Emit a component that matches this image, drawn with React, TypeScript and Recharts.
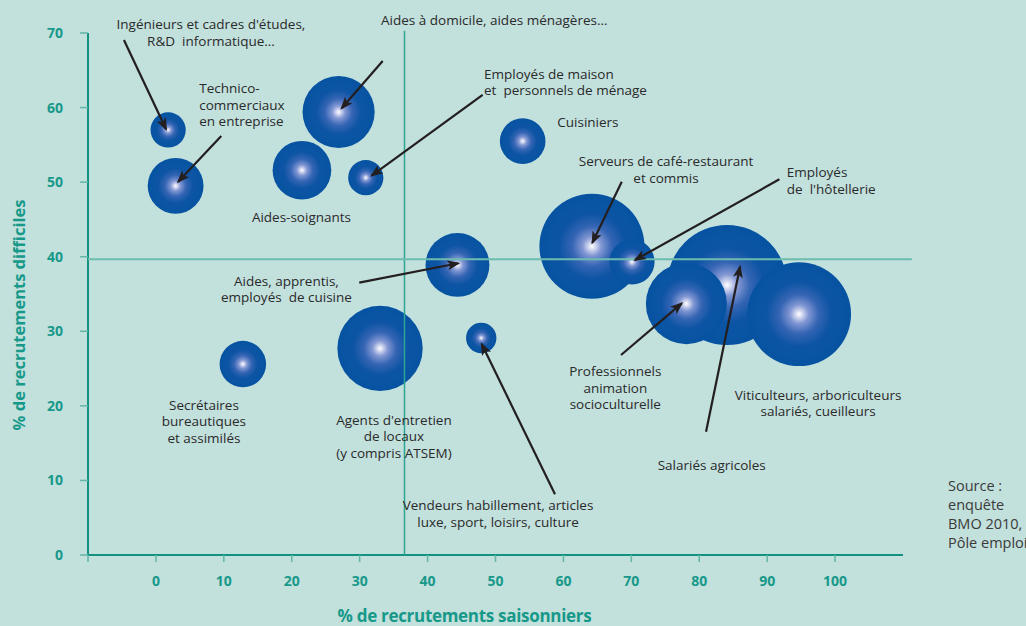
import React from 'react';
import { ScatterChart, Scatter, XAxis, YAxis, ZAxis, ReferenceLine, ReferenceDot, Label } from 'recharts';

// ---- data ----
const occupations = [
  "Ingénieurs et cadres d'études, R&D informatique",
  'Technico-commerciaux en entreprise',
  'Aides-soignants',
  'Aides à domicile, aides ménagères',
  'Employés de maison et personnels de ménage',
  'Cuisiniers',
  'Secrétaires bureautiques et assimilés',
  "Agents d'entretien de locaux (y compris ATSEM)",
  'Aides, apprentis, employés de cuisine',
  'Vendeurs habillement, articles luxe, sport, loisirs, culture',
  'Serveurs de café-restaurant et commis',
  "Employés de l'hôtellerie",
  'Salariés agricoles',
  'Professionnels animation socioculturelle',
  'Viticulteurs, arboriculteurs salariés, cueilleurs',
];
const seasonalShare = [1.8, 2.9, 21.5, 26.9, 30.9, 54.0, 12.8, 33.0, 44.4, 47.9, 64.2, 70.1, 84.1, 78.1, 94.7];
const difficultShare = [57.0, 49.5, 51.6, 59.4, 50.6, 55.5, 25.6, 27.7, 38.9, 29.1, 41.4, 39.3, 36.2, 33.7, 32.3];
const hiringProjects = [3.1, 7.8, 8.6, 13.0, 3.1, 5.2, 5.4, 18.2, 10.2, 2.3, 27.6, 5.1, 36.0, 16.4, 27.0];

const xTicks = [-10, 0, 10, 20, 30, 40, 50, 60, 70, 80, 90, 100];
const yTicks = [0, 10, 20, 30, 40, 50, 60, 70];

const avgSeasonal = 36.6;
const avgDifficult = 39.65;

const data = occupations.map((name, i) => ({
  name,
  x: seasonalShare[i],
  y: difficultShare[i],
  z: hiringProjects[i],
}));

// ---- annotations (in data units) ----
type Note = { lines: string[]; x: number; y: number; anchor: 'start' | 'middle'; lh: number };
const notes: Note[] = [
  { lines: ["Ingénieurs et cadres d'études,", 'R&D  informatique…'], x: 8.1, y: 71.21, anchor: 'middle', lh: 17.5 },
  { lines: ['Technico-', 'commerciaux', 'en entreprise'], x: 6.38, y: 62.58, anchor: 'start', lh: 16.3 },
  { lines: ['Aides-soignants'], x: 21.43, y: 45.33, anchor: 'middle', lh: 16 },
  { lines: ['Aides à domicile, aides ménagères…'], x: 49.82, y: 71.74, anchor: 'middle', lh: 16 },
  { lines: ['Employés de maison', 'et  personnels de ménage'], x: 48.31, y: 64.5, anchor: 'start', lh: 16 },
  { lines: ['Cuisiniers'], x: 59.1, y: 58.03, anchor: 'start', lh: 16 },
  { lines: ['Serveurs de café-restaurant', 'et commis'], x: 75.11, y: 52.8, anchor: 'middle', lh: 16.4 },
  { lines: ['Employés', "de  l'hôtellerie"], x: 92.89, y: 51.32, anchor: 'start', lh: 16.7 },
  { lines: ['Aides, apprentis,', 'employés  de cuisine'], x: 19.22, y: 36.74, anchor: 'middle', lh: 16.3 },
  { lines: ['Secrétaires', 'bureautiques', 'et assimilés'], x: 7.07, y: 20.18, anchor: 'middle', lh: 16.5 },
  { lines: ["Agents d'entretien", 'de locaux', '(y compris ATSEM)'], x: 35.05, y: 18.1, anchor: 'middle', lh: 16.3 },
  { lines: ['Vendeurs habillement, articles', 'luxe, sport, loisirs, culture'], x: 50.37, y: 6.71, anchor: 'middle', lh: 16.7 },
  { lines: ['Professionnels', 'animation', 'socioculturelle'], x: 67.64, y: 24.67, anchor: 'middle', lh: 16.7 },
  { lines: ['Viticulteurs, arboriculteurs', 'salariés, cueilleurs'], x: 97.5, y: 21.46, anchor: 'middle', lh: 16 },
  { lines: ['Salariés agricoles'], x: 81.84, y: 12.07, anchor: 'middle', lh: 16 },
];

const arrows: { from: [number, number]; to: [number, number] }[] = [
  { from: [-4.71, 69.06], to: [1.5, 57.1] },
  { from: [9.62, 56.19], to: [3.28, 50.06] },
  { from: [33.39, 66.25], to: [27.35, 59.9] },
  { from: [48.11, 61.69], to: [31.77, 50.87] },
  { from: [68.59, 50.06], to: [64.26, 41.88] },
  { from: [91.8, 50.38], to: [70.55, 39.56] },
  { from: [29.94, 36.52], to: [44.52, 39.12] },
  { from: [58.76, 8.14], to: [47.97, 28.3] },
  { from: [68.48, 26.82], to: [77.42, 33.75] },
  { from: [81.0, 16.53], to: [86.01, 38.66] },
];

const TEAL = '#17998a';
const AXIS = '#139282';
const TICKLINE = '#5fb6a9';
const BG = '#c2e0dc';
const TEXT = '#2a2a2a';

export default function App() {
  return (
    <div
      style={{
        position: 'absolute',
        left: 0,
        top: 0,
        width: 1026,
        height: 626,
        background: BG,
        overflow: 'hidden',
        fontFamily: '"Open Sans", "Noto Sans", sans-serif',
      }}
    >
      <ScatterChart width={1026} height={626} margin={{ top: 33, right: 123, bottom: 21, left: 28 }}>
        <defs>
          <radialGradient id="bubbleGrad" cx="50%" cy="50%" r="50%">
            <stop offset="0%" stopColor="#ffffff" />
            <stop offset="5%" stopColor="#dfe2f5" />
            <stop offset="18%" stopColor="#8297d3" />
            <stop offset="38%" stopColor="#3565b4" />
            <stop offset="62%" stopColor="#0d55a4" />
            <stop offset="100%" stopColor="#0653a2" />
          </radialGradient>
          <marker
            id="arrowHead"
            markerUnits="userSpaceOnUse"
            markerWidth="16"
            markerHeight="12"
            refX="11"
            refY="5"
            orient="auto"
          >
            <path d="M0,0 L13,5 L0,10 L3,5 z" fill="#231f20" />
          </marker>
        </defs>
        <XAxis
          type="number"
          dataKey="x"
          domain={[-10, 110]}
          ticks={xTicks}
          interval={0}
          height={50}
          tickSize={7}
          tickMargin={14}
          tickFormatter={(v: number) => (v < 0 ? '' : String(v))}
          axisLine={{ stroke: AXIS, strokeWidth: 2 }}
          tickLine={{ stroke: TICKLINE, strokeWidth: 1.5 }}
          tick={{ fill: TEAL, fontSize: 14, fontWeight: 700 }}
        >
          <Label
            content={(p: any) => {
              const vb = p.viewBox || { x: 88, y: 555, width: 815 };
              return (
                <text
                  x={vb.x + vb.width / 2 - 31}
                  y={vb.y + 67}
                  textAnchor="middle"
                  fill={TEAL}
                  fontSize={17}
                  fontWeight={700}
                  letterSpacing={-0.3}
                >
                  % de recrutements saisonniers
                </text>
              );
            }}
          />
        </XAxis>
        <YAxis
          type="number"
          dataKey="y"
          domain={[0, 70]}
          ticks={yTicks}
          interval={0}
          width={60}
          tickSize={8}
          tickMargin={17}
          axisLine={{ stroke: AXIS, strokeWidth: 2 }}
          tickLine={{ stroke: TICKLINE, strokeWidth: 1.5 }}
          tick={{ fill: TEAL, fontSize: 14, fontWeight: 700 }}
        >
          <Label
            content={(p: any) => {
              const vb = p.viewBox || { x: 28, y: 33, width: 60, height: 522 };
              const cx = vb.x - 10;
              const cy = vb.y + vb.height / 2 + 21;
              return (
                <text
                  x={cx}
                  y={cy}
                  transform={`rotate(-90, ${cx}, ${cy})`}
                  textAnchor="middle"
                  dominantBaseline="central"
                  fill={TEAL}
                  fontSize={16.5}
                  fontWeight={700}
                >
                  % de recrutements difficiles
                </text>
              );
            }}
          />
        </YAxis>
        <ZAxis type="number" dataKey="z" domain={[0, 36]} range={[0, 11310]} />
        <Scatter
          data={data}
          fill="url(#bubbleGrad)"
          shape="circle"
          isAnimationActive={false}
          {...{ zIndex: 100 }}
        />
        <ReferenceLine
          segment={[
            { x: avgSeasonal, y: 0 },
            { x: avgSeasonal, y: 70.3 },
          ]}
          ifOverflow="visible"
          stroke="#2ea595"
          strokeWidth={1.5}
          {...{ zIndex: 1500 }}
        />
        <ReferenceLine
          segment={[
            { x: -10, y: avgDifficult },
            { x: 111.3, y: avgDifficult },
          ]}
          ifOverflow="visible"
          stroke="#6cbdb0"
          strokeWidth={2}
          {...{ zIndex: 1500 }}
        />
        {arrows.map((a, i) => (
          <ReferenceLine
            key={'a' + i}
            segment={[
              { x: a.from[0], y: a.from[1] },
              { x: a.to[0], y: a.to[1] },
            ]}
            ifOverflow="visible"
            {...{ zIndex: 1600 }}
            shape={(p: any) => (
              <line
                x1={p.x1}
                y1={p.y1}
                x2={p.x2}
                y2={p.y2}
                stroke="#231f20"
                strokeWidth={2.2}
                markerEnd="url(#arrowHead)"
              />
            )}
          />
        ))}
        {notes.map((n, i) => (
          <ReferenceDot
            key={'n' + i}
            x={n.x}
            y={n.y}
            r={0}
            ifOverflow="visible"
            {...{ zIndex: 1700 }}
            shape={(p: any) => (
              <text
                x={p.cx}
                y={p.cy}
                textAnchor={n.anchor}
                dominantBaseline="central"
                fill={TEXT}
                fontSize={13.5}
                style={{ whiteSpace: 'pre' }}
              >
                {n.lines.map((l, j) => (
                  <tspan key={j} x={p.cx} y={p.cy + j * n.lh} dominantBaseline="central">
                    {l}
                  </tspan>
                ))}
              </text>
            )}
          />
        ))}
      </ScatterChart>
      <div
        style={{
          position: 'absolute',
          left: 948,
          top: 476,
          fontSize: 14.5,
          lineHeight: '19px',
          color: '#3a3a3a',
          whiteSpace: 'nowrap',
        }}
      >
        Source :<br />
        enquête<br />
        BMO 2010,<br />
        Pôle emploi
      </div>
    </div>
  );
}
